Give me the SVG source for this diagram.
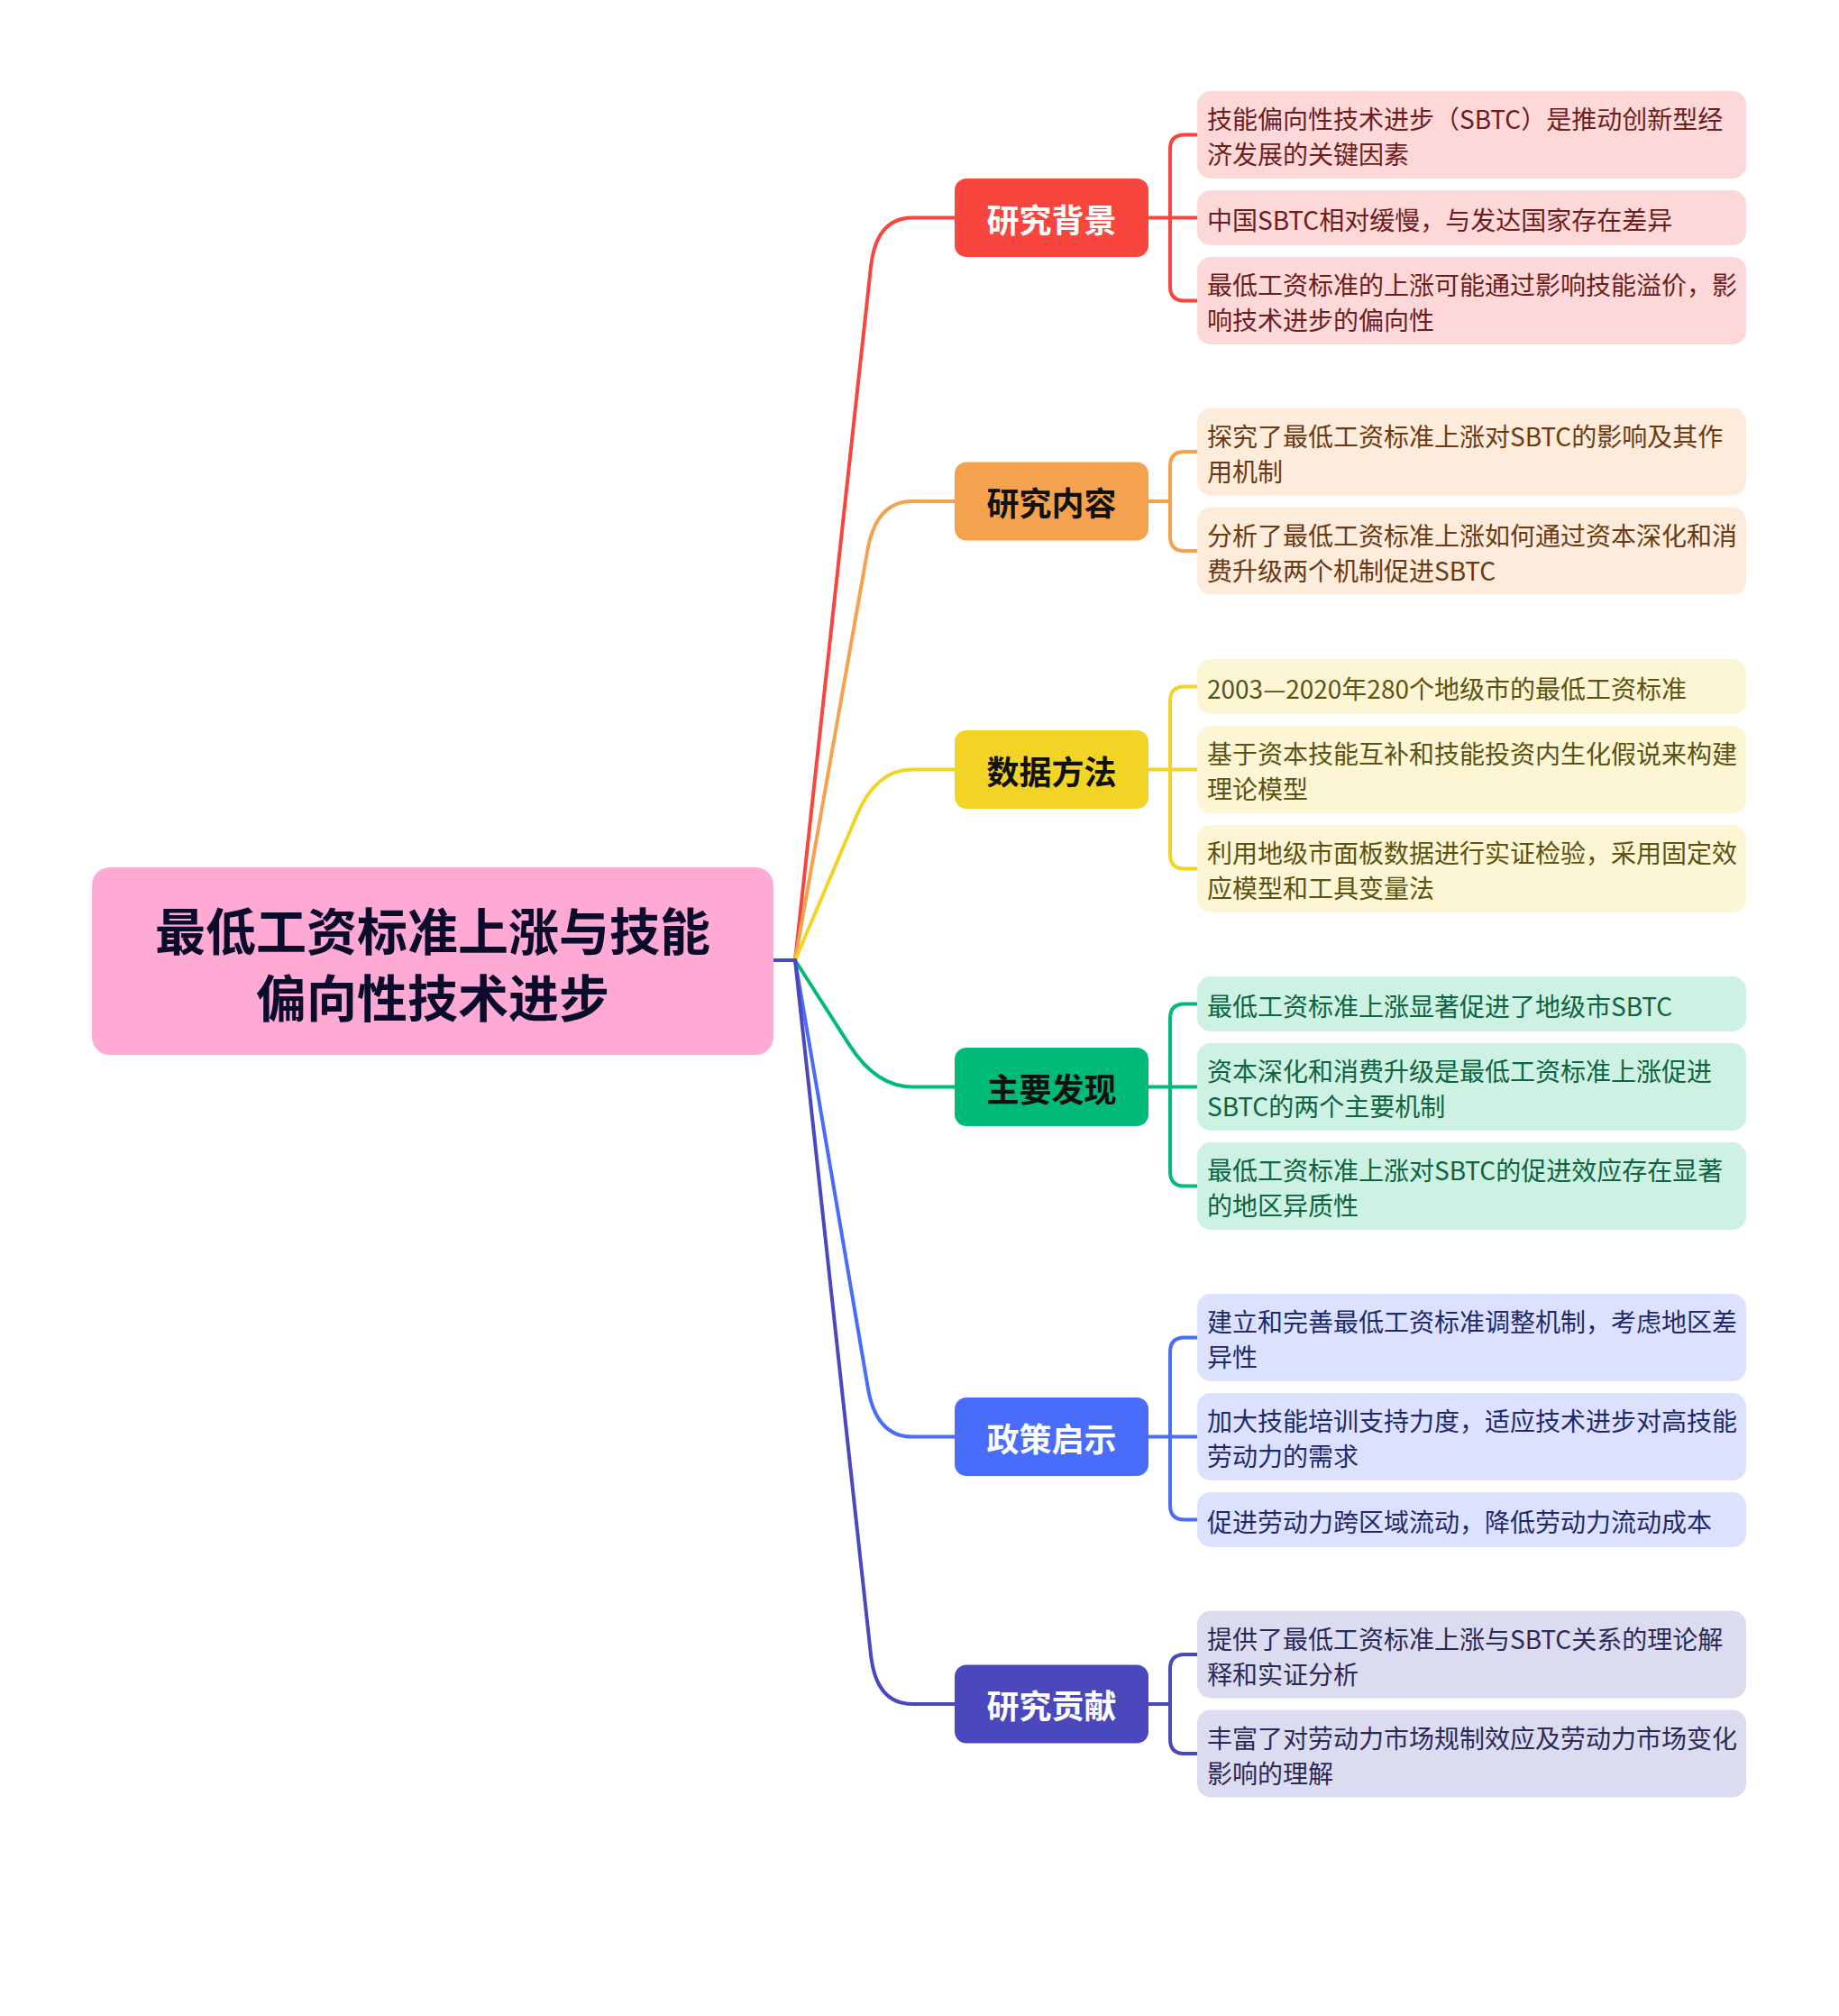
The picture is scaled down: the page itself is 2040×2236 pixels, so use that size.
<svg xmlns="http://www.w3.org/2000/svg" width="2040" height="2236" viewBox="0 0 2040 2236">
<style>
text{font-family:"Noto Sans CJK SC","Noto Sans",sans-serif}
.root{font-size:56px;font-weight:700;fill:#0b0b2b}
.cat{font-size:36px;font-weight:700}
.leaf{font-size:28px}
.ln{fill:none;stroke-width:4;stroke-linecap:round;stroke-linejoin:round}
</style>
<rect width="2040" height="2236" fill="#ffffff"/>
<g id="connectors">
<path class="ln" stroke="#F8453D" d="M882,1065 L966,296.2 Q972,241.5 1012,241.5 L1059,241.5"/>
<path class="ln" stroke="#F5A24E" d="M882,1065 L962.4,610.2 Q972,556 1012,556 L1059,556"/>
<path class="ln" stroke="#F1D425" d="M882,1065 L950.5,904 Q972,853.5 1012,853.5 L1059,853.5"/>
<path class="ln" stroke="#00BA77" d="M882,1065 L942.3,1159.2 Q972,1205.5 1012,1205.5 L1059,1205.5"/>
<path class="ln" stroke="#4A6CFA" d="M882,1065 L962.8,1539.3 Q972,1593.5 1012,1593.5 L1059,1593.5"/>
<path class="ln" stroke="#4B48BE" d="M882,1065 L966,1835.3 Q972,1890 1012,1890 L1059,1890"/>
<path class="ln" stroke="#4B48BE" d="M858,1065 L882,1065"/>
<path class="ln" stroke="#F8453D" d="M1274,241.5 L1328,241.5 M1328,149.5 L1314,149.5 Q1298,149.5 1298,165.5 L1298,317.5 Q1298,333.5 1314,333.5 L1328,333.5"/>
<path class="ln" stroke="#F5A24E" d="M1274,556 L1298,556 M1328,501 L1314,501 Q1298,501 1298,517 L1298,595 Q1298,611 1314,611 L1328,611"/>
<path class="ln" stroke="#F1D425" d="M1274,853.5 L1328,853.5 M1328,761.5 L1314,761.5 Q1298,761.5 1298,777.5 L1298,947.5 Q1298,963.5 1314,963.5 L1328,963.5"/>
<path class="ln" stroke="#00BA77" d="M1274,1205.5 L1328,1205.5 M1328,1113.5 L1314,1113.5 Q1298,1113.5 1298,1129.5 L1298,1299.5 Q1298,1315.5 1314,1315.5 L1328,1315.5"/>
<path class="ln" stroke="#4A6CFA" d="M1274,1593.5 L1328,1593.5 M1328,1483.5 L1314,1483.5 Q1298,1483.5 1298,1499.5 L1298,1669.5 Q1298,1685.5 1314,1685.5 L1328,1685.5"/>
<path class="ln" stroke="#4B48BE" d="M1274,1890 L1298,1890 M1328,1835 L1314,1835 Q1298,1835 1298,1851 L1298,1929 Q1298,1945 1314,1945 L1328,1945"/>
</g>
<g id="root">
<rect x="102" y="962" width="756" height="208" rx="20" fill="#FFAAD5"/>
<text class="root" x="480" y="1054" text-anchor="middle">最低工资标准上涨与技能</text>
<text class="root" x="480" y="1128" text-anchor="middle">偏向性技术进步</text>
</g>
<g id="cat-bg">
<rect x="1059" y="198" width="215" height="87" rx="13" fill="#F8453D"/>
<text class="cat" x="1166.5" y="257.5" text-anchor="middle" fill="#ffffff">研究背景</text>
</g>
<g id="cat-content">
<rect x="1059" y="512.5" width="215" height="87" rx="13" fill="#F5A24E"/>
<text class="cat" x="1166.5" y="572" text-anchor="middle" fill="#111111">研究内容</text>
</g>
<g id="cat-data">
<rect x="1059" y="810" width="215" height="87" rx="13" fill="#F1D425"/>
<text class="cat" x="1166.5" y="869.5" text-anchor="middle" fill="#111111">数据方法</text>
</g>
<g id="cat-find">
<rect x="1059" y="1162" width="215" height="87" rx="13" fill="#00BA77"/>
<text class="cat" x="1166.5" y="1221.5" text-anchor="middle" fill="#111111">主要发现</text>
</g>
<g id="cat-policy">
<rect x="1059" y="1550" width="215" height="87" rx="13" fill="#4A6CFA"/>
<text class="cat" x="1166.5" y="1609.5" text-anchor="middle" fill="#ffffff">政策启示</text>
</g>
<g id="cat-contrib">
<rect x="1059" y="1846.5" width="215" height="87" rx="13" fill="#4B48BE"/>
<text class="cat" x="1166.5" y="1906" text-anchor="middle" fill="#ffffff">研究贡献</text>
</g>
<g id="leaf-bg-1" fill="#FDD8D8">
<rect x="1328" y="101" width="609" height="97" rx="15"/>
<text class="leaf" x="1339" y="143" fill="#6E1D1D">技能偏向性技术进步（SBTC）是推动创新型经</text>
<text class="leaf" x="1339" y="182" fill="#6E1D1D">济发展的关键因素</text>
</g>
<g id="leaf-bg-2" fill="#FDD8D8">
<rect x="1328" y="211" width="609" height="61" rx="15"/>
<text class="leaf" x="1339" y="254.5" fill="#6E1D1D">中国SBTC相对缓慢，与发达国家存在差异</text>
</g>
<g id="leaf-bg-3" fill="#FDD8D8">
<rect x="1328" y="285" width="609" height="97" rx="15"/>
<text class="leaf" x="1339" y="327" fill="#6E1D1D">最低工资标准的上涨可能通过影响技能溢价，影</text>
<text class="leaf" x="1339" y="366" fill="#6E1D1D">响技术进步的偏向性</text>
</g>
<g id="leaf-ct-1" fill="#FDEBDB">
<rect x="1328" y="452.5" width="609" height="97" rx="15"/>
<text class="leaf" x="1339" y="494.5" fill="#6B3A12">探究了最低工资标准上涨对SBTC的影响及其作</text>
<text class="leaf" x="1339" y="533.5" fill="#6B3A12">用机制</text>
</g>
<g id="leaf-ct-2" fill="#FDEBDB">
<rect x="1328" y="562.5" width="609" height="97" rx="15"/>
<text class="leaf" x="1339" y="604.5" fill="#6B3A12">分析了最低工资标准上涨如何通过资本深化和消</text>
<text class="leaf" x="1339" y="643.5" fill="#6B3A12">费升级两个机制促进SBTC</text>
</g>
<g id="leaf-dt-1" fill="#FCF6D5">
<rect x="1328" y="731" width="609" height="61" rx="15"/>
<text class="leaf" x="1339" y="774.5" fill="#5C5212">2003—2020年280个地级市的最低工资标准</text>
</g>
<g id="leaf-dt-2" fill="#FCF6D5">
<rect x="1328" y="805" width="609" height="97" rx="15"/>
<text class="leaf" x="1339" y="847" fill="#5C5212">基于资本技能互补和技能投资内生化假说来构建</text>
<text class="leaf" x="1339" y="886" fill="#5C5212">理论模型</text>
</g>
<g id="leaf-dt-3" fill="#FCF6D5">
<rect x="1328" y="915" width="609" height="97" rx="15"/>
<text class="leaf" x="1339" y="957" fill="#5C5212">利用地级市面板数据进行实证检验，采用固定效</text>
<text class="leaf" x="1339" y="996" fill="#5C5212">应模型和工具变量法</text>
</g>
<g id="leaf-fd-1" fill="#CDF1E3">
<rect x="1328" y="1083" width="609" height="61" rx="15"/>
<text class="leaf" x="1339" y="1126.5" fill="#0E6440">最低工资标准上涨显著促进了地级市SBTC</text>
</g>
<g id="leaf-fd-2" fill="#CDF1E3">
<rect x="1328" y="1157" width="609" height="97" rx="15"/>
<text class="leaf" x="1339" y="1199" fill="#0E6440">资本深化和消费升级是最低工资标准上涨促进</text>
<text class="leaf" x="1339" y="1238" fill="#0E6440">SBTC的两个主要机制</text>
</g>
<g id="leaf-fd-3" fill="#CDF1E3">
<rect x="1328" y="1267" width="609" height="97" rx="15"/>
<text class="leaf" x="1339" y="1309" fill="#0E6440">最低工资标准上涨对SBTC的促进效应存在显著</text>
<text class="leaf" x="1339" y="1348" fill="#0E6440">的地区异质性</text>
</g>
<g id="leaf-pl-1" fill="#DCE2FD">
<rect x="1328" y="1435" width="609" height="97" rx="15"/>
<text class="leaf" x="1339" y="1477" fill="#1F2A6B">建立和完善最低工资标准调整机制，考虑地区差</text>
<text class="leaf" x="1339" y="1516" fill="#1F2A6B">异性</text>
</g>
<g id="leaf-pl-2" fill="#DCE2FD">
<rect x="1328" y="1545" width="609" height="97" rx="15"/>
<text class="leaf" x="1339" y="1587" fill="#1F2A6B">加大技能培训支持力度，适应技术进步对高技能</text>
<text class="leaf" x="1339" y="1626" fill="#1F2A6B">劳动力的需求</text>
</g>
<g id="leaf-pl-3" fill="#DCE2FD">
<rect x="1328" y="1655" width="609" height="61" rx="15"/>
<text class="leaf" x="1339" y="1698.5" fill="#1F2A6B">促进劳动力跨区域流动，降低劳动力流动成本</text>
</g>
<g id="leaf-cb-1" fill="#DCDCF0">
<rect x="1328" y="1786.5" width="609" height="97" rx="15"/>
<text class="leaf" x="1339" y="1828.5" fill="#2B2A57">提供了最低工资标准上涨与SBTC关系的理论解</text>
<text class="leaf" x="1339" y="1867.5" fill="#2B2A57">释和实证分析</text>
</g>
<g id="leaf-cb-2" fill="#DCDCF0">
<rect x="1328" y="1896.5" width="609" height="97" rx="15"/>
<text class="leaf" x="1339" y="1938.5" fill="#2B2A57">丰富了对劳动力市场规制效应及劳动力市场变化</text>
<text class="leaf" x="1339" y="1977.5" fill="#2B2A57">影响的理解</text>
</g>
</svg>
